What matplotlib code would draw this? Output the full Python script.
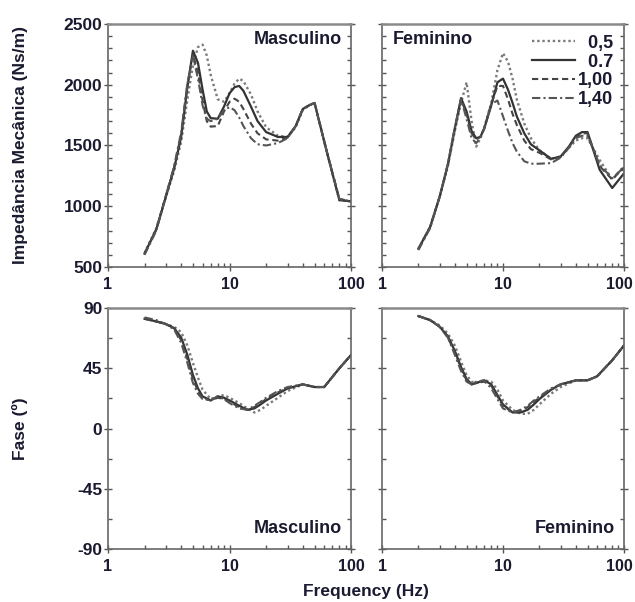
import numpy as np
import matplotlib.pyplot as plt
from matplotlib.ticker import MultipleLocator, LogLocator, NullFormatter
from matplotlib.transforms import ScaledTranslation

plt.rcParams['font.family'] = ['Liberation Sans', 'DejaVu Sans']
plt.rcParams['font.weight'] = 'bold'
plt.rcParams['axes.labelweight'] = 'bold'
plt.rcParams['axes.unicode_minus'] = False

TXT = '#1a1a30'

series = ['\u20070,5', '\u20070.7', '1,00', '1,40']

# impedance (Ns/m)
freq_top = [2, 2.5, 3, 3.5, 4, 4.5, 5, 5.5, 6, 6.5, 7, 8, 9, 10, 11, 12, 13, 15, 17, 20,
            25, 30, 35, 40, 45, 50, 63, 80, 100]

imp_masc = [
    [615, 820, 1080, 1290, 1530, 1880, 2160, 2310, 2330, 2240, 2080, 1880, 1860, 1930, 2010, 2050,
     2030, 1920, 1780, 1650, 1580, 1570, 1650, 1790, 1830, 1850, 1450, 1050, 1040],
    [610, 810, 1080, 1310, 1570, 1980, 2280, 2180, 1960, 1780, 1725, 1720, 1820, 1930, 1980, 1990,
     1950, 1820, 1700, 1610, 1570, 1570, 1660, 1800, 1830, 1850, 1450, 1050, 1040],
    [610, 810, 1090, 1320, 1590, 2000, 2250, 2100, 1870, 1700, 1655, 1660, 1780, 1860, 1885, 1860,
     1800, 1680, 1600, 1550, 1540, 1565, 1660, 1800, 1830, 1850, 1450, 1060, 1040],
    [600, 800, 1090, 1330, 1610, 2010, 2230, 2050, 1830, 1720, 1700, 1720, 1790, 1815, 1790, 1730,
     1660, 1560, 1510, 1500, 1520, 1560, 1660, 1800, 1830, 1850, 1450, 1060, 1040],
]

imp_fem = [
    [650, 830, 1080, 1330, 1620, 1850, 2020, 1700, 1490, 1560, 1650, 1850, 2120, 2260, 2190, 2050,
     1880, 1680, 1560, 1460, 1390, 1410, 1480, 1540, 1560, 1560, 1380, 1220, 1330],
    [650, 830, 1080, 1340, 1640, 1890, 1780, 1620, 1560, 1570, 1640, 1830, 2020, 2050, 1960, 1850,
     1740, 1600, 1510, 1460, 1390, 1410, 1490, 1580, 1610, 1610, 1300, 1150, 1270],
    [650, 830, 1080, 1340, 1640, 1880, 1760, 1600, 1550, 1570, 1640, 1840, 1990, 1990, 1880, 1760,
     1670, 1540, 1470, 1440, 1385, 1405, 1485, 1570, 1600, 1600, 1330, 1220, 1320],
    [640, 820, 1080, 1350, 1650, 1880, 1720, 1560, 1520, 1560, 1640, 1840, 1870, 1740, 1620, 1520,
     1450, 1370, 1350, 1350, 1355, 1400, 1480, 1560, 1580, 1580, 1340, 1230, 1320],
]

# phase (degrees)
freq_ph = [2, 2.5, 3, 3.5, 4, 4.5, 5, 5.5, 6, 7, 8, 9, 10, 12, 14, 16, 18, 20, 25, 30, 40,
           50, 60, 80, 100]

ph_masc = [
    [82, 80, 78, 76, 72, 62, 49, 38, 29, 22, 24, 25, 23, 19, 15, 12, 14, 17, 23, 28, 33, 31, 31, 45, 55],
    [82, 80, 78, 75, 68, 55, 40, 30, 24, 21, 24, 23, 21, 17, 14, 15, 18, 21, 26, 30, 33, 31, 31, 45, 55],
    [82, 80, 78, 75, 66, 52, 37, 28, 23, 21, 23, 22, 20, 16, 14, 16, 19, 22, 27, 30, 33, 31, 31, 45, 55],
    [83, 81, 78, 74, 64, 49, 34, 26, 22, 21, 24, 22, 19, 15, 14, 17, 20, 23, 28, 31, 33, 31, 31, 45, 55],
]

ph_fem = [
    [84, 81, 77, 71, 62, 50, 40, 35, 34, 36, 35, 29, 21, 14, 11, 11, 14, 18, 26, 31, 36, 36, 39, 51, 62],
    [84, 81, 76, 69, 58, 46, 37, 33, 34, 36, 33, 25, 18, 12, 12, 14, 18, 22, 29, 33, 36, 36, 39, 51, 62],
    [84, 81, 76, 68, 57, 45, 36, 33, 34, 35, 32, 24, 17, 12, 13, 16, 20, 23, 29, 33, 36, 36, 39, 51, 62],
    [84, 81, 76, 68, 55, 43, 35, 33, 35, 36, 30, 22, 15, 12, 14, 17, 21, 24, 30, 33, 36, 36, 39, 51, 62],
]

styles = [
    dict(color='#7a7a7a', ls=(0, (1, 1.2)), lw=1.7),
    dict(color='#333333', ls='-', lw=1.6),
    dict(color='#444444', ls=(0, (3, 1.8)), lw=1.5),
    dict(color='#555555', ls=(0, (4, 1.5, 1, 1.5)), lw=1.5),
]

fig = plt.figure(figsize=(6.35, 6.02), dpi=100)
ax1 = fig.add_axes([0.170, 0.5565, 0.383, 0.4037])
ax2 = fig.add_axes([0.6016, 0.5565, 0.381, 0.4037])
ax3 = fig.add_axes([0.170, 0.088, 0.383, 0.4003])
ax4 = fig.add_axes([0.6016, 0.088, 0.381, 0.4003])

for i in range(4):
    ax1.plot(freq_top, imp_masc[i], **styles[i])
    ax2.plot(freq_top, imp_fem[i], label=series[i], **styles[i])
    ax3.plot(freq_ph, ph_masc[i], **styles[i])
    ax4.plot(freq_ph, ph_fem[i], **styles[i])

for ax in (ax1, ax2, ax3, ax4):
    ax.set_xscale('log')
    ax.set_xlim(1, 100)
    ax.set_xticks([1, 10, 100], labels=['1', '10', '100'])
    ax.xaxis.set_minor_locator(LogLocator(base=10, subs=np.arange(2, 10)))
    ax.xaxis.set_minor_formatter(NullFormatter())
    ax.tick_params(axis='both', which='major', direction='inout', length=6, width=1,
                   colors='#555555', labelcolor=TXT)
    ax.tick_params(axis='x', which='major', labelsize=11.5, pad=4)
    ax.tick_params(axis='y', which='major', labelsize=12.5, pad=1)
    ax.tick_params(axis='both', which='minor', direction='in', length=3, width=1,
                   colors='#555555')
    ax.tick_params(axis='y', which='both', right=True)
    for s in ax.spines.values():
        s.set_color('#666666')
        s.set_linewidth(1.2)
    ax.spines['top'].set_linewidth(1.8)
    ax.spines['top'].set_color('#8a8a8a')

for ax in (ax1, ax2):
    ax.set_ylim(500, 2500)
    ax.yaxis.set_major_locator(MultipleLocator(500))
    ax.yaxis.set_minor_locator(MultipleLocator(100))
for ax in (ax3, ax4):
    ax.set_ylim(-90, 90)
    ax.yaxis.set_major_locator(MultipleLocator(45))
    ax.yaxis.set_minor_locator(MultipleLocator(22.5))
for ax in (ax2, ax4):
    ax.tick_params(axis='y', labelleft=False)
    # keep the last "100" inside the figure, as in the reference
    lab = ax.get_xticklabels()[-1]
    lab.set_ha('right')
    lab.set_transform(lab.get_transform() + ScaledTranslation(9 / 100, 0, fig.dpi_scale_trans))

ax1.set_ylabel('Impedância Mecânica (Ns/m)', fontsize=12.5, color=TXT)
ax3.set_ylabel('Fase (º)', fontsize=12.5, color=TXT)
ax1.yaxis.set_label_coords(-0.33, 0.5)
ax3.yaxis.set_label_coords(-0.33, 0.5)

ax1.text(0.963, 0.938, 'Masculino', transform=ax1.transAxes, ha='right', va='center',
         fontsize=13, color=TXT)
ax2.text(0.045, 0.934, 'Feminino', transform=ax2.transAxes, ha='left', va='center',
         fontsize=13, color=TXT)
ax3.text(0.963, 0.087, 'Masculino', transform=ax3.transAxes, ha='right', va='center',
         fontsize=13, color=TXT)
ax4.text(0.963, 0.087, 'Feminino', transform=ax4.transAxes, ha='right', va='center',
         fontsize=13, color=TXT)

leg = ax2.legend(loc='upper right', bbox_to_anchor=(1.0, 1.0), frameon=False,
                 fontsize=13, handlelength=2.4, handletextpad=0.15, labelspacing=0.1,
                 borderaxespad=0.2)
for t in leg.get_texts():
    t.set_color(TXT)

fig.text(0.577, 0.017, 'Frequency (Hz)', ha='center', va='center', fontsize=12.5, color=TXT)

fig.savefig('out.png', dpi=100, facecolor='white')
